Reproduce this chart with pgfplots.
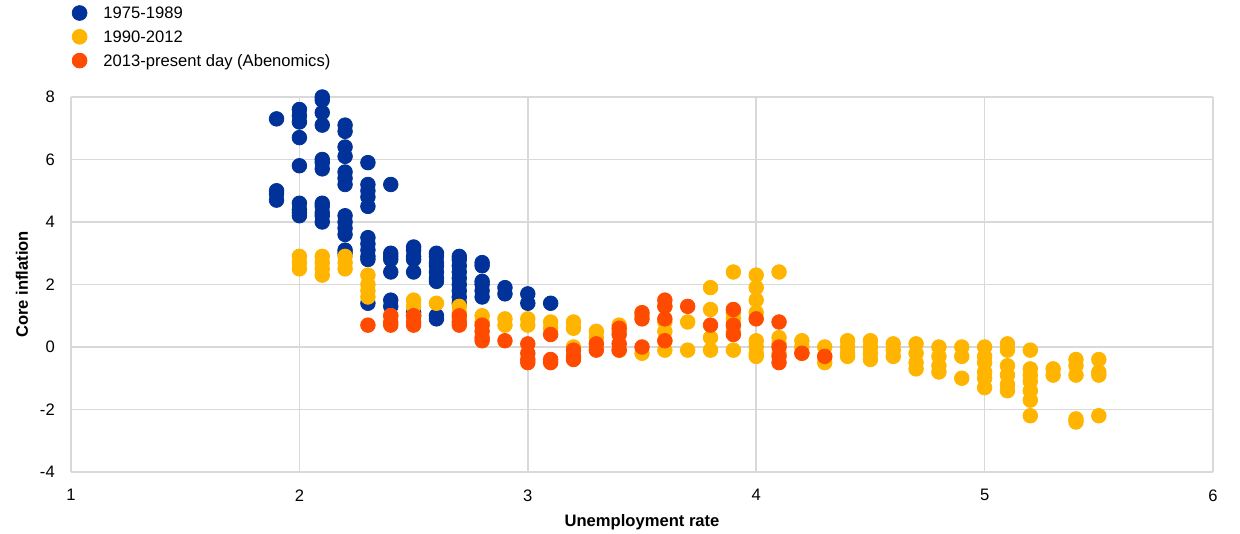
\documentclass[border=0pt]{standalone}
\usepackage{fontspec}
\setmainfont{Liberation Sans}
\usepackage{pgfplots}
\pgfplotsset{compat=1.18}
\definecolor{ecbblue}{RGB}{0,50,153}
\definecolor{ecbyellow}{RGB}{255,180,0}
\definecolor{ecborange}{RGB}{255,75,0}
\definecolor{gridgray}{RGB}{217,217,217}
\newcommand{\fs}{\fontsize{8.3}{10}\selectfont}
\begin{document}
\begin{tikzpicture}
\path[use as bounding box] (0,0) rectangle (620pt,267pt);
\begin{axis}[
  at={(35.5pt,31pt)}, anchor=south west,
  scale only axis, width=571pt, height=187.5pt,
  xmin=1, xmax=6, ymin=-4, ymax=8,
  xtick={1,2,3,4,5,6}, ytick={-4,-2,0,2,4,6,8},
  grid=major, major grid style={gridgray, line width=0.75pt},
  axis line style={draw=none},
  tick style={draw=none}, major tick length=0pt,
  /pgf/number format/assume math mode=true,
  tick label style={font=\fs},
  yticklabel style={anchor=east, xshift=-4.6pt},
  xticklabel style={anchor=north, yshift=-5.2pt},
  xlabel={Unemployment rate}, ylabel={Core inflation},
  label style={font=\fs\bfseries},
  xlabel style={at={(axis description cs:0.5,-0.1333)}, anchor=center},
  ylabel style={at={(axis description cs:-0.0429,0.5)}, anchor=center},
  legend style={draw=none, fill=none, at={(axis description cs:0,1)}, anchor=south west,
    xshift=0.2pt, yshift=13pt, inner sep=0pt, row sep=3pt, column sep=8pt,
    font=\fs, nodes={inner sep=0pt, text height=6pt, text depth=2pt}},
  legend cell align=left,
  legend image code/.code={\fill[#1] (0pt,1pt) circle (3.7pt);},
  every axis plot/.append style={only marks, mark=*, mark size=3.65pt},
]
\addplot[ecbblue, mark options={draw=ecbblue, fill=ecbblue}] table {
x y
1.9 7.3
1.9 5.0
1.9 4.9
1.9 4.7
2.0 7.6
2.0 7.4
2.0 7.2
2.0 6.7
2.0 5.8
2.0 4.6
2.0 4.4
2.0 4.3
2.0 4.2
2.1 8.0
2.1 7.9
2.1 7.5
2.1 7.1
2.1 6.0
2.1 5.9
2.1 5.7
2.1 4.6
2.1 4.5
2.1 4.3
2.1 4.2
2.1 4.0
2.2 7.1
2.2 6.9
2.2 6.4
2.2 6.1
2.2 5.6
2.2 5.4
2.2 5.2
2.2 4.2
2.2 4.0
2.2 3.8
2.2 3.6
2.2 3.1
2.2 3.0
2.3 5.9
2.3 5.2
2.3 5.0
2.3 4.8
2.3 4.5
2.3 3.5
2.3 3.3
2.3 3.1
2.3 2.9
2.3 2.8
2.3 1.4
2.4 5.2
2.4 3.0
2.4 2.9
2.4 2.8
2.4 2.4
2.4 1.5
2.4 1.3
2.5 3.2
2.5 3.1
2.5 2.9
2.5 2.8
2.5 2.4
2.5 1.1
2.5 1.0
2.6 3.0
2.6 2.9
2.6 2.7
2.6 2.6
2.6 2.4
2.6 2.2
2.6 2.1
2.6 1.0
2.6 0.9
2.7 2.9
2.7 2.8
2.7 2.6
2.7 2.4
2.7 2.2
2.7 2.0
2.7 1.8
2.7 1.6
2.7 1.4
2.8 2.7
2.8 2.6
2.8 2.1
2.8 2.0
2.8 1.8
2.8 1.6
2.9 1.9
2.9 1.7
3.0 1.7
3.0 1.4
3.1 1.4
};
\addlegendentry{1975-1989}
\addplot[ecbyellow, mark options={draw=ecbyellow, fill=ecbyellow}] table {
x y
2.0 2.9
2.0 2.7
2.0 2.5
2.1 2.9
2.1 2.7
2.1 2.5
2.1 2.3
2.2 2.9
2.2 2.7
2.2 2.5
2.3 2.3
2.3 2.0
2.3 1.8
2.3 1.6
2.4 1.0
2.5 1.5
2.5 1.3
2.5 1.0
2.6 1.4
2.7 1.3
2.7 1.1
2.7 0.9
2.8 1.0
2.8 0.8
2.9 0.9
2.9 0.7
3.0 0.9
3.0 0.7
3.1 0.8
3.1 0.6
3.2 0.8
3.2 0.6
3.2 0.0
3.3 0.5
3.3 0.3
3.4 0.7
3.4 0.5
3.4 -0.1
3.5 1.0
3.5 -0.2
3.6 1.3
3.6 0.8
3.6 0.5
3.6 0.2
3.6 -0.1
3.7 0.8
3.7 -0.1
3.8 1.9
3.8 1.2
3.8 0.3
3.8 -0.1
3.9 2.4
3.9 1.1
3.9 0.9
3.9 0.5
3.9 -0.1
4.0 2.3
4.0 1.9
4.0 1.5
4.0 1.1
4.0 0.2
4.0 0.0
4.0 -0.2
4.0 -0.3
4.1 2.4
4.1 0.3
4.1 0.1
4.1 -0.2
4.2 0.2
4.2 0.0
4.2 -0.2
4.3 0.0
4.3 -0.3
4.3 -0.5
4.4 0.2
4.4 0.0
4.4 -0.2
4.4 -0.3
4.5 0.2
4.5 0.0
4.5 -0.2
4.5 -0.4
4.6 0.1
4.6 -0.1
4.6 -0.3
4.7 0.1
4.7 -0.2
4.7 -0.5
4.7 -0.7
4.8 0.0
4.8 -0.3
4.8 -0.6
4.8 -0.8
4.9 0.0
4.9 -0.3
4.9 -1.0
5.0 0.0
5.0 -0.3
5.0 -0.5
5.0 -0.8
5.0 -1.0
5.0 -1.3
5.1 0.1
5.1 -0.1
5.1 -0.6
5.1 -0.9
5.1 -1.2
5.1 -1.4
5.2 -0.1
5.2 -0.7
5.2 -0.9
5.2 -1.1
5.2 -1.4
5.2 -1.7
5.2 -2.2
5.3 -0.7
5.3 -0.9
5.4 -0.4
5.4 -0.6
5.4 -0.9
5.4 -2.3
5.4 -2.4
5.5 -0.4
5.5 -0.8
5.5 -0.9
5.5 -2.2
};
\addlegendentry{1990-2012}
\addplot[ecborange, mark options={draw=ecborange, fill=ecborange}] table {
x y
2.3 0.7
2.4 1.0
2.4 0.8
2.4 0.7
2.5 1.0
2.5 0.8
2.5 0.7
2.7 1.0
2.7 0.8
2.7 0.7
2.8 0.7
2.8 0.5
2.8 0.3
2.8 0.2
2.9 0.2
3.0 0.1
3.0 -0.2
3.0 -0.4
3.0 -0.5
3.1 0.4
3.1 -0.4
3.1 -0.5
3.2 -0.1
3.2 -0.3
3.2 -0.4
3.3 0.1
3.3 -0.1
3.4 0.6
3.4 0.4
3.4 0.1
3.4 -0.1
3.5 1.1
3.5 0.9
3.5 0.0
3.6 1.5
3.6 1.3
3.6 0.9
3.6 0.2
3.7 1.3
3.8 0.7
3.9 1.2
3.9 0.7
3.9 0.4
4.0 0.9
4.1 0.8
4.1 0.0
4.1 -0.3
4.1 -0.5
4.2 -0.2
4.3 -0.3
};
\addlegendentry{2013-present day (Abenomics)}
\end{axis}
\end{tikzpicture}
\end{document}
